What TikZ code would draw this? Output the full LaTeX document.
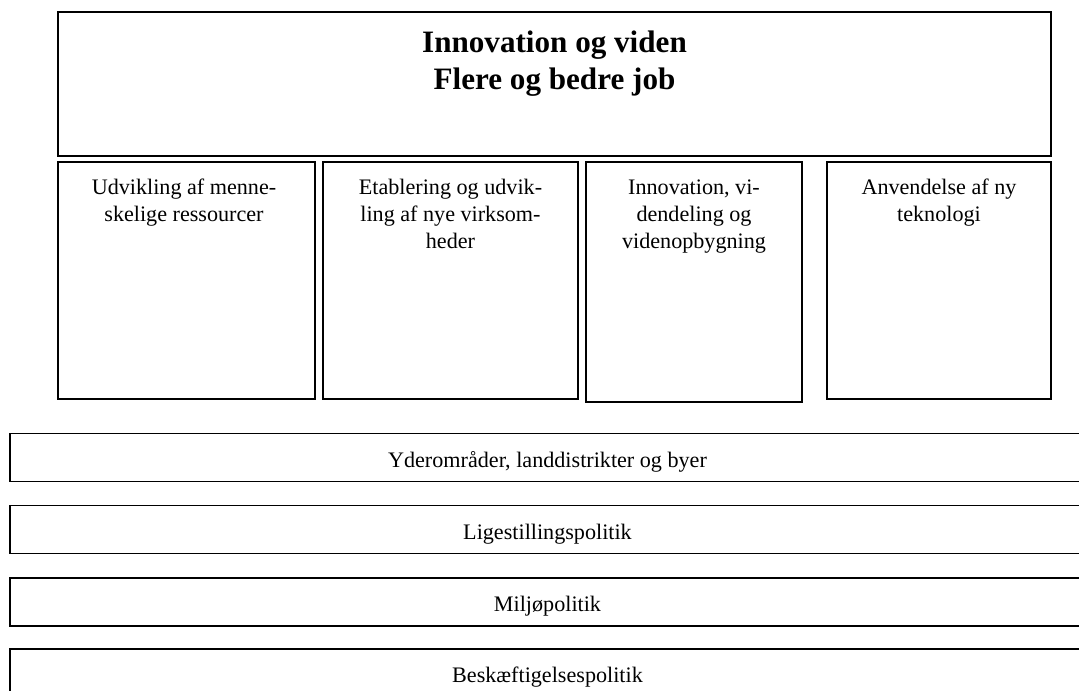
\documentclass[tikz,border=0pt]{standalone}
\usepackage{fontspec}
\setmainfont{Liberation Serif}
\usetikzlibrary{positioning}

\def\pxu{0.254mm}
\tikzset{
  boxframe/.style={draw, line width=1pt, inner sep=0pt},
  barframe/.style={draw, line width=1.2pt, inner sep=0pt,
    minimum width=1075*\pxu, minimum height=48*\pxu,
    font=\fontsize{16}{19.3}\selectfont, text height=14pt, text depth=0pt},
  coltext/.style={font=\fontsize{16}{19.3}\selectfont, align=center, inner sep=0pt, anchor=base},
  headtext/.style={font=\fontsize{22.5}{26.7}\selectfont\bfseries, align=center, inner sep=0pt, anchor=base},
}

\begin{document}
\begin{tikzpicture}[x=\pxu, y=-\pxu]
\useasboundingbox (0,0) rectangle (1079,691);
\clip (0,0) rectangle (1079,691);

% top box
\node[boxframe, minimum width=993*\pxu, minimum height=144*\pxu] (goal) at (554.5,84) {};
\node[headtext] (goaltxt) at (554.5,89.3) {Innovation og viden\\Flere og bedre job};

% the four columns (text placed by its last baseline)
\node[boxframe, minimum width=257*\pxu, minimum height=237*\pxu] (col1) at (186.5,280.5) {};
\node[boxframe, minimum width=255*\pxu, minimum height=237*\pxu] (col2) at (450.5,280.5) {};
\node[boxframe, minimum width=216*\pxu, minimum height=240*\pxu] (col3) at (694,282) {};
\node[boxframe, minimum width=224*\pxu, minimum height=237*\pxu] (col4) at (939,280.5) {};
\node[coltext] (col1txt) at (184,221.7) {Udvikling af menne-\\skelige ressourcer};
\node[coltext] (col2txt) at (450.5,248.4) {Etablering og udvik-\\ling af nye virksom-\\heder};
\node[coltext] (col3txt) at (694,248.4) {Innovation, vi-\\dendeling og\\videnopbygning};
\node[coltext] (col4txt) at (939,221.7) {Anvendelse af ny\\teknologi};

% horizontal bars
\node[barframe] (yder) at (547.5,457.5) {Yderområder, landdistrikter og byer};
\node[barframe] (lige) at (547.5,529.5) {Ligestillingspolitik};
\node[barframe] (miljo) at (547.5,602) {Miljøpolitik};
\node[barframe] (besk) at (547.5,673) {Beskæftigelsespolitik};
\end{tikzpicture}
\end{document}
